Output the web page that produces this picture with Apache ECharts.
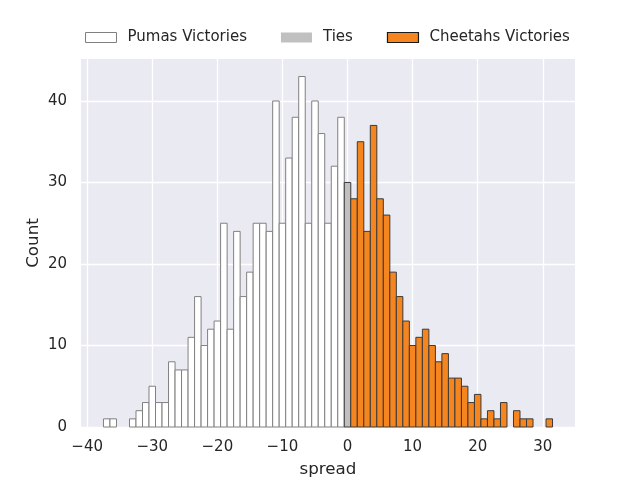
<!DOCTYPE html>
<html>
<head>
    <meta charset="UTF-8">
    <title>spread histogram</title>
    <script src="https://cdn.jsdelivr.net/npm/echarts@6.0.0/dist/echarts.min.js"></script>
    <style>
        * { margin: 0; padding: 0; box-sizing: border-box; }
        body { background: #ffffff; }
        #chart { width: 640px; height: 480px; }
    </style>
</head>
<body>
    <div id="chart"></div>
    <script>
        // histogram bins (width 1, centred on the integer)
        const pumasBins = [-37, -36, -35, -34, -33, -32, -31, -30, -29, -28, -27, -26, -25, -24, -23, -22, -21, -20, -19,
            -18, -17, -16, -15, -14, -13, -12, -11, -10, -9, -8, -7, -6, -5, -4, -3, -2, -1];
        const pumasCounts = [1, 1, 0, 0, 1, 2, 3, 5, 3, 3, 8, 7, 7, 11, 16, 10, 12, 13, 25,
            12, 24, 16, 19, 25, 25, 24, 40, 25, 33, 38, 43, 25, 40, 36, 25, 32, 38];

        const tieBins = [0];
        const tieCounts = [30];

        const cheetahsBins = [1, 2, 3, 4, 5, 6, 7, 8, 9, 10, 11, 12, 13, 14, 15, 16, 17, 18, 19, 20,
            21, 22, 23, 24, 25, 26, 27, 28, 29, 30, 31];
        const cheetahsCounts = [28, 35, 24, 37, 28, 26, 19, 16, 13, 10, 11, 12, 10, 8, 9, 6, 6, 5, 3, 4,
            1, 2, 1, 3, 0, 2, 1, 1, 0, 0, 1];

        const xTicks = [-40, -30, -20, -10, 0, 10, 20, 30];
        const yTicks = [0, 10, 20, 30, 40];

        const textColor = '#262626';
        const font = 'DejaVu Sans';

        function pairs(bins, counts) {
            const out = [];
            bins.forEach(function (b, i) {
                if (counts[i] > 0) out.push([b, counts[i]]);
            });
            return out;
        }

        function renderBin(params, api) {
            const x = api.value(0);
            const y = api.value(1);
            const p0 = api.coord([x - 0.5, y]);
            const p1 = api.coord([x + 0.5, 0]);
            const st = api.style();
            return {
                type: 'rect',
                shape: { x: p0[0], y: p0[1], width: p1[0] - p0[0], height: p1[1] - p0[1] },
                style: { fill: st.fill, stroke: st.stroke, lineWidth: st.lineWidth }
            };
        }

        function histSeries(name, data, fill, edge) {
            return {
                name: name,
                type: 'custom',
                renderItem: renderBin,
                data: data,
                encode: { x: 0, y: 1 },
                itemStyle: { color: fill, borderColor: edge, borderWidth: 1 },
                silent: true
            };
        }

        const chart = echarts.init(document.getElementById('chart'));

        const option = {
            animation: false,
            textStyle: { fontFamily: font },
            legend: {
                left: 80,
                top: 25,
                icon: 'rect',
                itemWidth: 31,
                itemHeight: 10,
                itemGap: 34,
                textStyle: { color: textColor, fontSize: 15, fontFamily: font, padding: [0, 0, 0, 6] },
                data: [
                    { name: 'Pumas Victories', itemStyle: { color: '#ffffff', borderColor: '#808080', borderWidth: 1 } },
                    { name: 'Ties', itemStyle: { color: '#c0c0c0', borderWidth: 0 } },
                    { name: 'Cheetahs Victories', itemStyle: { color: '#f5861f', borderColor: '#1a1a1a', borderWidth: 1.2 } }
                ]
            },
            grid: {
                left: 81,
                right: 65,
                top: 59,
                bottom: 53,
                outerBoundsMode: 'none',
                containLabel: false,
                show: true,
                backgroundColor: '#eaeaf2',
                borderWidth: 0
            },
            xAxis: {
                type: 'value',
                min: -40.95,
                max: 34.95,
                name: 'spread',
                nameLocation: 'middle',
                nameGap: 34,
                nameMoveOverlap: false,
                nameTextStyle: { color: textColor, fontSize: 16.7, fontFamily: font },
                axisLine: { show: false },
                axisTick: { show: false, customValues: xTicks },
                axisLabel: {
                    customValues: xTicks,
                    color: textColor,
                    fontSize: 15,
                    fontFamily: font,
                    margin: 13,
                    formatter: function (v) { return String(v).replace('-', '\u2212'); }
                },
                splitLine: { show: true, lineStyle: { color: '#ffffff', width: 1.3 } }
            },
            yAxis: {
                type: 'value',
                min: 0,
                max: 45.15,
                name: 'Count',
                nameLocation: 'middle',
                nameGap: 39,
                nameMoveOverlap: false,
                nameTextStyle: { color: textColor, fontSize: 16.7, fontFamily: font },
                axisLine: { show: false },
                axisTick: { show: false, customValues: yTicks },
                axisLabel: {
                    customValues: yTicks,
                    color: textColor,
                    fontSize: 15,
                    fontFamily: font,
                    margin: 14
                },
                splitLine: { show: true, lineStyle: { color: '#ffffff', width: 1.3 } }
            },
            series: [
                histSeries('Pumas Victories', pairs(pumasBins, pumasCounts), '#ffffff', '#808080'),
                histSeries('Ties', pairs(tieBins, tieCounts), '#c0c0c0', '#3a3a3a'),
                histSeries('Cheetahs Victories', pairs(cheetahsBins, cheetahsCounts), '#f5861f', '#3a3a3a')
            ]
        };

        chart.setOption(option);
    </script>
</body>
</html>
